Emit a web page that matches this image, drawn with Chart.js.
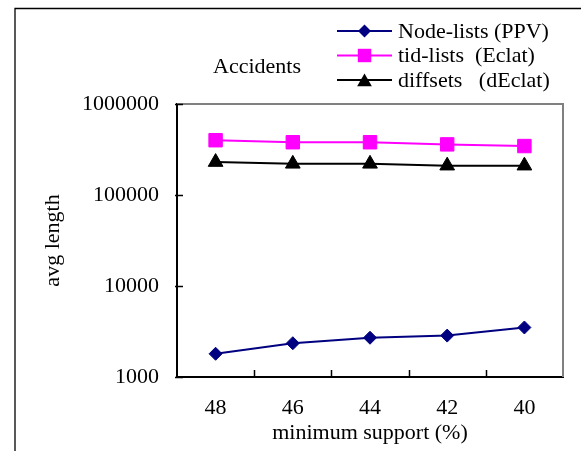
<!DOCTYPE html>
<html>
<head>
<meta charset="utf-8">
<script src="https://cdn.jsdelivr.net/npm/chart.js"></script>
<style>
  html, body { margin: 0; padding: 0; background: #ffffff; }
  canvas { display: block; }
</style>
</head>
<body>
<canvas id="chart" width="581" height="451"></canvas>
<script>
// Minimum support thresholds (%) along the x axis
const supports = ['48', '46', '44', '42', '40'];
// Average length of the vertical representation per algorithm
const nodeLists = [1800, 2350, 2700, 2850, 3500];
const tidLists = [400000, 380000, 380000, 360000, 345000];
const diffsets = [230000, 220000, 220000, 210000, 210000];
// Decade ticks on the log axis
const yTicks = [1000, 10000, 100000, 1000000];

const seriesNames = ['Node-lists (PPV)', 'tid-lists  (Eclat)', 'diffsets   (dEclat)'];
const chartTitle = 'Accidents';

const SERIF = '"Liberation Serif", "Times New Roman", serif';

function drawMarker(ctx, style, x, y, r, color) {
  ctx.beginPath();
  if (style === 'rectRot') {
    ctx.moveTo(x - r, y); ctx.lineTo(x, y - r); ctx.lineTo(x + r, y); ctx.lineTo(x, y + r);
  } else if (style === 'rect') {
    const s = Math.SQRT1_2 * r;
    ctx.rect(x - s, y - s, 2 * s, 2 * s);
  } else if (style === 'triangle') {
    for (let k = 0; k < 3; k++) {
      const a = k * 2 * Math.PI / 3;
      const px = x + Math.sin(a) * r, py = y - Math.cos(a) * r;
      if (k === 0) ctx.moveTo(px, py); else ctx.lineTo(px, py);
    }
  }
  ctx.closePath();
  ctx.fillStyle = color;
  ctx.fill();
}

// Frame lines, inward tick marks, title and legend box
const decorations = {
  id: 'decorations',
  beforeDatasetsDraw(chart) {
    const { ctx, chartArea: a, scales } = chart;
    ctx.save();
    // top and right edges of the plot area
    ctx.strokeStyle = '#808080';
    ctx.lineWidth = 2;
    ctx.beginPath();
    ctx.moveTo(a.left, a.top); ctx.lineTo(a.right, a.top); ctx.lineTo(a.right, a.bottom);
    ctx.stroke();
    // tick marks pointing into the plot
    ctx.strokeStyle = '#000000';
    ctx.lineWidth = 1.5;
    ctx.beginPath();
    yTicks.forEach(v => {
      const py = Math.round(scales.y.getPixelForValue(v)) + 0.5;
      ctx.moveTo(a.left - 2, py); ctx.lineTo(a.left + 6, py);
    });
    for (let i = 0; i < supports.length - 1; i++) {
      const px = Math.round((scales.x.getPixelForValue(i) + scales.x.getPixelForValue(i + 1)) / 2) + 0.5;
      ctx.moveTo(px, a.bottom); ctx.lineTo(px, a.bottom - 7);
    }
    ctx.stroke();
    ctx.restore();
  },
  afterDraw(chart) {
    const { ctx } = chart;
    ctx.save();
    // outer frame
    ctx.strokeStyle = '#000000';
    ctx.lineWidth = 1.3;
    ctx.beginPath();
    ctx.moveTo(15, 451); ctx.lineTo(15, 8.5); ctx.lineTo(581, 8.5);
    ctx.stroke();
    // chart title
    ctx.fillStyle = '#000000';
    ctx.font = '22px ' + SERIF;
    ctx.textAlign = 'left';
    ctx.textBaseline = 'middle';
    ctx.fillText(chartTitle, 213, 67);
    // legend
    chart.data.datasets.forEach((ds, i) => {
      const y = 31 + i * 24.5;
      ctx.strokeStyle = ds.borderColor;
      ctx.lineWidth = 2;
      ctx.beginPath();
      ctx.moveTo(337, y); ctx.lineTo(392, y);
      ctx.stroke();
      drawMarker(ctx, ds.pointStyle, 364.5, y + (ds.pointStyle === 'triangle' ? 2 : 0), ds.pointRadius, ds.pointBackgroundColor);
      ctx.fillStyle = '#000000';
      ctx.fillText(ds.label, 398, y + 1);
    });
    ctx.restore();
  }
};

new Chart(document.getElementById('chart'), {
  type: 'line',
  data: {
    labels: supports,
    datasets: [
      {
        label: seriesNames[0], data: nodeLists,
        borderColor: '#000080', backgroundColor: '#000080',
        pointBackgroundColor: '#000080', pointBorderColor: '#000080',
        pointStyle: 'rectRot', pointRadius: 6.5, borderWidth: 2, pointBorderWidth: 1
      },
      {
        label: seriesNames[1], data: tidLists,
        borderColor: '#ff00ff', backgroundColor: '#ff00ff',
        pointBackgroundColor: '#ff00ff', pointBorderColor: '#ff00ff',
        pointStyle: 'rect', pointRadius: 9.5, borderWidth: 2, pointBorderWidth: 1
      },
      {
        label: seriesNames[2], data: diffsets,
        borderColor: '#000000', backgroundColor: '#000000',
        pointBackgroundColor: '#000000', pointBorderColor: '#000000',
        pointStyle: 'triangle', pointRadius: 8.5, borderWidth: 2, pointBorderWidth: 1
      }
    ]
  },
  options: {
    responsive: false,
    animation: false,
    layout: { padding: { top: 104, right: 18, left: 0, bottom: 0 } },
    plugins: {
      legend: { display: false },
      title: { display: false },
      tooltip: { enabled: false }
    },
    scales: {
      x: {
        offset: true,
        grid: { display: false, drawTicks: false },
        border: { display: true, color: '#000000', width: 2 },
        ticks: { color: '#000000', font: { family: SERIF, size: 22 }, padding: 18, maxRotation: 0 },
        title: {
          display: true, text: 'minimum support (%)', color: '#000000',
          font: { family: SERIF, size: 22 }, padding: { top: 5, bottom: 5 }
        },
        afterFit(scale) { scale.height = 74; }
      },
      y: {
        type: 'logarithmic',
        min: 1000, max: 1000000,
        grid: { display: false, drawTicks: false },
        border: { display: true, color: '#000000', width: 2 },
        afterBuildTicks(scale) { scale.ticks = yTicks.map(v => ({ value: v })); },
        ticks: {
          color: '#000000', font: { family: SERIF, size: 22 }, padding: 18,
          callback: (v) => String(v)
        },
        title: {
          display: true, text: 'avg length', color: '#000000',
          font: { family: SERIF, size: 22 }, padding: { top: 40, bottom: 0 }
        },
        afterFit(scale) { scale.width = 177; }
      }
    }
  },
  plugins: [decorations]
});
</script>
</body>
</html>
